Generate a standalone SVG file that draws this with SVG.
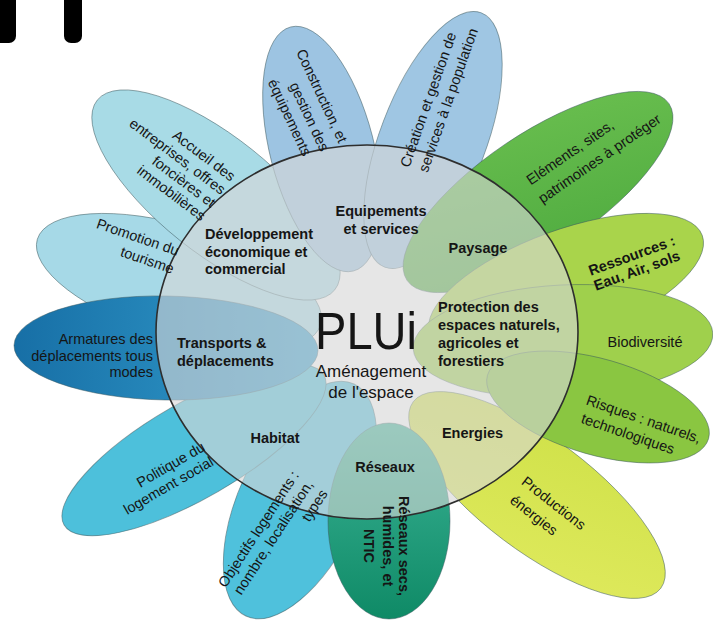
<svg xmlns="http://www.w3.org/2000/svg" width="713" height="621" viewBox="0 0 713 621">
<defs>
<linearGradient id="armGrad" x1="0" y1="0" x2="1" y2="0"><stop offset="0" stop-color="#176fa6"/><stop offset="1" stop-color="#35a0cf"/></linearGradient>
<linearGradient id="resGrad" x1="0" y1="0" x2="0" y2="1"><stop offset="0" stop-color="#3cb497"/><stop offset="1" stop-color="#0f8a66"/></linearGradient>
<linearGradient id="elemGrad" x1="0" y1="1" x2="1" y2="0"><stop offset="0" stop-color="#4aa83d"/><stop offset="1" stop-color="#6cc050"/></linearGradient>
<linearGradient id="prodGrad" x1="0" y1="0" x2="1" y2="1"><stop offset="0" stop-color="#cde046"/><stop offset="1" stop-color="#e0ea5e"/></linearGradient>
</defs>
<style>
.p{stroke:#3d5a5f;stroke-opacity:0.55;stroke-width:0.9}
text{font-family:"Liberation Sans",Arial,sans-serif;font-size:14.5px;fill:#151515}
.b{font-weight:bold}
.c{text-anchor:middle}
.e{text-anchor:end}
</style>
<rect width="713" height="621" fill="#ffffff"/>
<g id="marks" fill="#000">
<rect x="-10" y="-10" width="26" height="53" rx="7"/>
<rect x="64" y="-10" width="18" height="53" rx="7"/>
</g>
<g id="petals">
<g id="promotion"><ellipse class="p" cx="179" cy="282" rx="148" ry="56" transform="rotate(16.8 179 282)" fill="#a6d9e7"/></g>
<g id="accueil"><ellipse class="p" cx="216" cy="195" rx="152" ry="58" transform="rotate(38.6 216 195)" fill="#a8dbe6"/></g>
<g id="construction"><ellipse class="p" cx="322" cy="149" rx="126" ry="52" transform="rotate(75.6 322 149)" fill="#9dc4e2"/></g>
<g id="creation"><ellipse class="p" cx="433" cy="140" rx="136" ry="53" transform="rotate(-69.2 433 140)" fill="#9fc6e3"/></g>
<g id="elements"><ellipse class="p" cx="538" cy="192" rx="158" ry="58" transform="rotate(-34 538 192)" fill="url(#elemGrad)"/></g>
<g id="ressources"><ellipse class="p" cx="566" cy="285" rx="145" ry="55" transform="rotate(-20 566 285)" fill="#a9d44b"/></g>
<g id="biodiversite"><ellipse class="p" cx="563" cy="341" rx="150" ry="56" transform="rotate(-3 563 341)" fill="#9fd04c"/></g>
<g id="productions"><ellipse class="p" cx="537" cy="495" rx="155" ry="56" transform="rotate(37 537 495)" fill="url(#prodGrad)"/></g>
<g id="risques"><ellipse class="p" cx="598" cy="407" rx="115" ry="48" transform="rotate(16 598 407)" fill="#8ac641"/></g>
<g id="objectifs"><ellipse class="p" cx="300" cy="500" rx="128" ry="60" transform="rotate(-65 300 500)" fill="#4fc1dc"/></g>
<g id="politique"><ellipse class="p" cx="194" cy="450" rx="150" ry="48" transform="rotate(-30 194 450)" fill="#4dc0db"/></g>
<g id="armatures"><ellipse class="p" cx="166" cy="348" rx="152" ry="52" transform="rotate(1 166 348)" fill="url(#armGrad)"/></g>
<g id="reseaux"><ellipse class="p" cx="389" cy="521" rx="61" ry="98" fill="url(#resGrad)"/></g>
</g>
<g id="plui">
<ellipse cx="367" cy="332" rx="211" ry="187" fill="#d6d6d6" fill-opacity="0.62" stroke="#2e2e2e" stroke-width="1.6"/>
<text x="366" y="349" class="c" style="font-size:51px" textLength="102" lengthAdjust="spacingAndGlyphs">PLUi</text>
<text x="371" y="377" class="c" style="font-size:17px">Aménagement</text>
<text x="371" y="397.5" class="c" style="font-size:17px">de l'espace</text>
</g>
<g id="inner-labels" class="b">
<text class="b" x="205" y="239">Développement</text>
<text class="b" x="205" y="256.5">économique et</text>
<text class="b" x="205" y="274">commercial</text>
<text class="b c" x="381" y="216">Equipements</text>
<text class="b c" x="381" y="233.5">et services</text>
<text class="b c" x="478" y="253">Paysage</text>
<text class="b" x="438" y="312">Protection des</text>
<text class="b" x="438" y="330">espaces naturels,</text>
<text class="b" x="438" y="348">agricoles et</text>
<text class="b" x="438" y="366">forestiers</text>
<text class="b" x="177" y="348">Transports &amp;</text>
<text class="b" x="177" y="366">déplacements</text>
<text class="b c" x="275" y="443">Habitat</text>
<text class="b c" x="472.5" y="437.5">Energies</text>
<text class="b c" x="385" y="472">Réseaux</text>
</g>
<g id="outer-labels">
<g id="label-accueil">
<text class="e" transform="translate(230.6 181.9) rotate(37)">Accueil des</text>
<text class="e" transform="translate(220.7 195.1) rotate(37)">entreprises, offres</text>
<text class="e" transform="translate(210.8 208.3) rotate(37)">foncières et</text>
<text class="e" transform="translate(200.9 221.5) rotate(37)">immobilières</text>
</g>
<g id="label-promotion">
<text class="e" transform="translate(177 255.8) rotate(19)">Promotion du</text>
<text class="e" transform="translate(172 273.8) rotate(19)">tourisme</text>
</g>
<g id="label-armatures">
<text class="e" x="153" y="344">Armatures des</text>
<text class="e" x="153" y="360.5">déplacements tous</text>
<text class="e" x="153" y="377">modes</text>
</g>
<g id="label-politique">
<text class="e" transform="translate(206 450) rotate(-30)">Politique du</text>
<text class="e" transform="translate(214.5 464.7) rotate(-30)">logement social</text>
</g>
<g id="label-objectifs">
<text class="e" transform="translate(299.5 475) rotate(-57)">Objectifs logements :</text>
<text class="e" transform="translate(313.8 484.3) rotate(-57)">nombre, localisation,</text>
<text class="e" transform="translate(328.1 493.6) rotate(-57)">types</text>
</g>
<g id="label-reseaux">
<text class="b c" transform="translate(398.5 546) rotate(90)">Réseaux secs,</text>
<text class="b c" transform="translate(382.5 546) rotate(90)">humides, et</text>
<text class="b c" transform="translate(364 546) rotate(90)">NTIC</text>
</g>
<g id="label-productions">
<text transform="translate(520.6 483.6) rotate(38)">Productions</text>
<text transform="translate(509 501.9) rotate(38)">énergies</text>
</g>
<g id="label-risques">
<text transform="translate(585.2 404.3) rotate(19)">Risques : naturels,</text>
<text transform="translate(580.2 422.6) rotate(19)">technologiques</text>
</g>
<g id="label-biodiversite">
<text class="c" x="645" y="347">Biodiversité</text>
</g>
<g id="label-ressources">
<text class="b c" transform="translate(633.5 260.2) rotate(-20)">Ressources :</text>
<text class="b c" transform="translate(638.5 275.2) rotate(-20)">Eau, Air, sols</text>
</g>
<g id="label-elements">
<text transform="translate(530.8 185.4) rotate(-34.5)">Eléments, sites,</text>
<text transform="translate(542.5 203.7) rotate(-34.5)">patrimoines à protéger</text>
</g>
<g id="label-creation">
<text transform="translate(409.2 168.2) rotate(-70.5)">Création et gestion de</text>
<text transform="translate(427.5 173.2) rotate(-70.5)">services à la population</text>
</g>
<g id="label-construction">
<text transform="translate(295.9 51.9) rotate(65)">Construction, et</text>
<text transform="translate(289.2 85.2) rotate(65)">gestion des</text>
<text transform="translate(267.6 81.9) rotate(65)">équipements</text>
</g>
</g>
</svg>
